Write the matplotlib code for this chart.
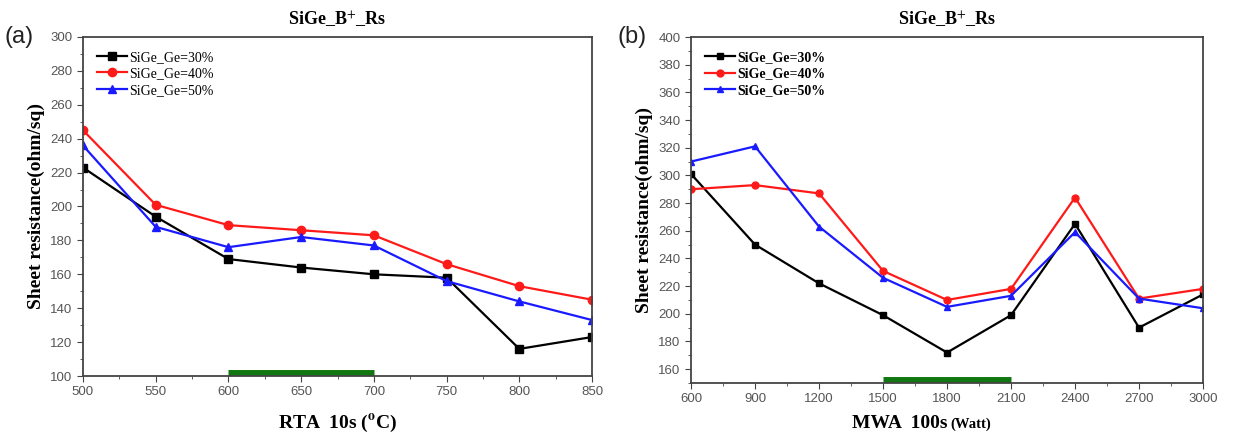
import numpy as np
import matplotlib
matplotlib.use('Agg')
import matplotlib.pyplot as plt
from matplotlib.ticker import MultipleLocator

plt.rcParams['mathtext.fontset'] = 'stix'

# panel (a) - RTA
rta_temp = [500, 550, 600, 650, 700, 750, 800, 850]
rta_ge30 = [223, 194, 169, 164, 160, 158, 116, 123]
rta_ge40 = [245, 201, 189, 186, 183, 166, 153, 145]
rta_ge50 = [236, 188, 176, 182, 177, 156, 144, 133]
rta_window = [600, 700]

# panel (b) - MWA
mwa_power = [600, 900, 1200, 1500, 1800, 2100, 2400, 2700, 3000]
mwa_ge30 = [301, 250, 222, 199, 172, 199, 265, 190, 214]
mwa_ge40 = [290, 293, 287, 231, 210, 218, 284, 211, 218]
mwa_ge50 = [310, 321, 263, 226, 205, 213, 259, 211, 204]
mwa_window = [1500, 2100]

labels = ['SiGe_Ge=30%', 'SiGe_Ge=40%', 'SiGe_Ge=50%']
colors = ['black', '#ff1a1a', '#1a1aff']
markers = ['s', 'o', '^']

serif = 'Liberation Serif'
sans = 'Liberation Sans'
tick_col = '#555555'

fig = plt.figure(figsize=(12.42, 4.33), dpi=100)
ax1 = fig.add_axes([0.0668, 0.1316, 0.4099, 0.783])
ax2 = fig.add_axes([0.5564, 0.1155, 0.4122, 0.799])


def style(ax, legend_bold):
    for s in ax.spines.values():
        s.set_color('#444444')
        s.set_linewidth(1.3)
    ax.tick_params(which='both', direction='out', colors='#444444',
                   labelcolor=tick_col, labelsize=9.5)
    ax.tick_params(which='major', length=4)
    ax.tick_params(which='minor', length=2.5)
    for lab in ax.get_xticklabels() + ax.get_yticklabels():
        lab.set_fontfamily(sans)
    ax.set_ylabel('Sheet resistance(ohm/sq)', fontsize=14, fontweight='bold',
                  family=serif, labelpad=4)
    ax.set_title('SiGe_B$^{+}$_Rs', fontsize=13, fontweight='bold',
                 family=serif, pad=8)
    ax.legend(loc='upper left', frameon=False, handlelength=2.2,
              handletextpad=0.1, labelspacing=0.25, borderaxespad=0.6,
              prop={'family': serif, 'size': 10,
                    'weight': 'bold' if legend_bold else 'normal'})


# (a)
for ys, lab, c, m in zip([rta_ge30, rta_ge40, rta_ge50], labels, colors, markers):
    ax1.plot(rta_temp, ys, color=c, marker=m, markersize=6, linewidth=1.6, label=lab)
ax1.plot(rta_window, [101.8, 101.8], color='#117711', linewidth=5, solid_capstyle='butt')
ax1.set_xlim(500, 850)
ax1.set_ylim(100, 300)
ax1.xaxis.set_major_locator(MultipleLocator(50))
ax1.xaxis.set_minor_locator(MultipleLocator(25))
ax1.yaxis.set_major_locator(MultipleLocator(20))
ax1.yaxis.set_minor_locator(MultipleLocator(10))
ax1.set_xlabel('RTA  10s ($^{\\mathbf{o}}$C)', fontsize=14, fontweight='bold',
               family=serif, labelpad=10)
style(ax1, False)

# (b)
for ys, lab, c, m in zip([mwa_ge30, mwa_ge40, mwa_ge50], labels, colors, markers):
    ax2.plot(mwa_power, ys, color=c, marker=m, markersize=5, linewidth=1.6, label=lab)
ax2.plot(mwa_window, [152, 152], color='#117711', linewidth=5, solid_capstyle='butt')
ax2.set_xlim(600, 3000)
ax2.set_ylim(150, 400)
ax2.xaxis.set_major_locator(MultipleLocator(300))
ax2.xaxis.set_minor_locator(MultipleLocator(150))
ax2.yaxis.set_major_locator(MultipleLocator(20))
ax2.yaxis.set_minor_locator(MultipleLocator(10))
style(ax2, True)
ax2.text(0.5, -0.13, 'MWA  100s', transform=ax2.transAxes, ha='right', va='baseline',
         fontsize=14, fontweight='bold', family=serif)
ax2.text(0.507, -0.13, '(Watt)', transform=ax2.transAxes, ha='left', va='baseline',
         fontsize=10.5, fontweight='bold', family=serif)

fig.text(0.004, 0.915, '(a)', fontsize=17, family=sans, color='#222222', va='center')
fig.text(0.497, 0.915, '(b)', fontsize=17, family=sans, color='#222222', va='center')

fig.savefig('out.png', dpi=100)
